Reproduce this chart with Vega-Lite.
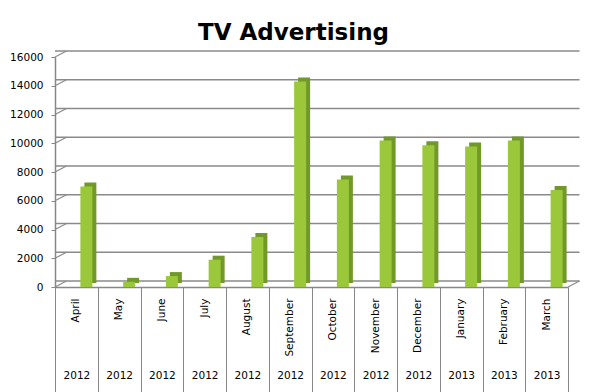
{
  "$schema": "https://vega.github.io/schema/vega-lite/v6.json",
  "autosize": {"type": "none"},
  "padding": {"left": 55, "top": 57, "right": 28, "bottom": 105},
  "width": 513,
  "height": 230,
  "background": "white",
  "title": {
    "text": "TV Advertising",
    "font": "DejaVu Sans",
    "fontSize": 23,
    "fontWeight": "bold",
    "color": "black",
    "anchor": "middle",
    "frame": "group",
    "baseline": "alphabetic",
    "offset": -13,
    "dx": -18
  },
  "config": {
    "view": {"stroke": null},
    "axis": {"labelFont": "DejaVu Sans", "labelFontSize": 10.5, "labelColor": "black", "domainColor": "#878787", "tickColor": "#878787", "domainWidth": 1.5, "grid": false}
  },
  "datasets": {
    "ads": [
      {"period": "April 2012", "value": 7000},
      {"period": "May 2012", "value": 360},
      {"period": "June 2012", "value": 760},
      {"period": "July 2012", "value": 1900},
      {"period": "August 2012", "value": 3480},
      {"period": "September 2012", "value": 14300},
      {"period": "October 2012", "value": 7480},
      {"period": "November 2012", "value": 10200},
      {"period": "December 2012", "value": 9860},
      {"period": "January 2013", "value": 9780},
      {"period": "February 2013", "value": 10200},
      {"period": "March 2013", "value": 6750}
    ],
    "grid": [
      {"v": 0}, {"v": 2000}, {"v": 4000}, {"v": 6000}, {"v": 8000},
      {"v": 10000}, {"v": 12000}, {"v": 14000}, {"v": 16000}
    ]
  },
  "resolve": {"axis": {"x": "independent"}},
  "layer": [
    {
      "data": {"name": "grid"},
      "mark": {"type": "rule", "color": "#8a8a8a", "strokeWidth": 1.5, "xOffset": 11.5, "x2Offset": 11.5, "yOffset": -6},
      "encoding": {
        "y": {
          "field": "v", "type": "quantitative", "scale": {"domain": [0, 16000], "nice": false},
          "axis": {"title": null, "values": [0, 2000, 4000, 6000, 8000, 10000, 12000, 14000, 16000], "format": "d", "tickSize": 4, "labelPadding": 8, "domain": true}
        }
      }
    },
    {
      "data": {"name": "grid"},
      "mark": {"type": "rule", "color": "#8a8a8a", "strokeWidth": 1.2, "x2Offset": 11.5, "y2Offset": -6},
      "encoding": {
        "x": {"datum": "April 2012", "type": "nominal", "bandPosition": 0, "axis": null},
        "x2": {"datum": "April 2012", "bandPosition": 0},
        "y": {
          "field": "v", "type": "quantitative",
          "axis": {"title": null, "values": [0, 2000, 4000, 6000, 8000, 10000, 12000, 14000, 16000], "format": "d", "tickSize": 4, "labelPadding": 8, "domain": true}
        },
        "y2": {"field": "v"}
      }
    },
    {
      "data": {"values": [{"v": 0}]},
      "mark": {"type": "rule", "color": "#8a8a8a", "strokeWidth": 1.2, "x2Offset": 11.5, "y2Offset": -6},
      "encoding": {
        "x": {"datum": "March 2013", "type": "nominal", "bandPosition": 1, "axis": null},
        "x2": {"datum": "March 2013", "bandPosition": 1},
        "y": {
          "field": "v", "type": "quantitative",
          "axis": {"title": null, "values": [0, 2000, 4000, 6000, 8000, 10000, 12000, 14000, 16000], "format": "d", "tickSize": 4, "labelPadding": 8, "domain": true}
        },
        "y2": {"field": "v"}
      }
    },
    {
      "data": {"name": "ads"},
      "mark": {"type": "bar", "width": 12, "xOffset": 14, "yOffset": -4, "color": "#71992a"},
      "encoding": {
        "x": {
          "field": "period", "type": "nominal", "sort": null,
          "scale": {
            "paddingInner": 0, "paddingOuter": 0,
            "domain": ["April 2012", "May 2012", "June 2012", "July 2012", "August 2012", "September 2012", "October 2012", "November 2012", "December 2012", "January 2013", "February 2013", "March 2013"]
          },
          "axis": {
            "orient": "bottom", "title": null, "domain": false, "ticks": true, "tickSize": 105, "tickBand": "extent", "tickWidth": 1,
            "labelAngle": 0, "labelAlign": "center", "labelBaseline": "middle", "labelPadding": -17,
            "labelExpr": "split(datum.value, ' ')[1]"
          }
        },
        "y": {
          "field": "value", "type": "quantitative",
          "axis": {"title": null, "values": [0, 2000, 4000, 6000, 8000, 10000, 12000, 14000, 16000], "format": "d", "tickSize": 4, "labelPadding": 8, "domain": true}
        }
      }
    },
    {
      "data": {"name": "ads"},
      "mark": {"type": "bar", "width": 12, "xOffset": 10, "color": "#9bc83a"},
      "encoding": {
        "x": {
          "field": "period", "type": "nominal", "sort": null,
          "axis": {
            "orient": "bottom", "title": null, "domain": true, "ticks": false,
            "labelAngle": -90, "labelAlign": "right", "labelBaseline": "middle", "labelPadding": 11,
            "labelExpr": "split(datum.value, ' ')[0]"
          }
        },
        "y": {
          "field": "value", "type": "quantitative",
          "axis": {"title": null, "values": [0, 2000, 4000, 6000, 8000, 10000, 12000, 14000, 16000], "format": "d", "tickSize": 4, "labelPadding": 8, "domain": true}
        }
      }
    }
  ]
}
